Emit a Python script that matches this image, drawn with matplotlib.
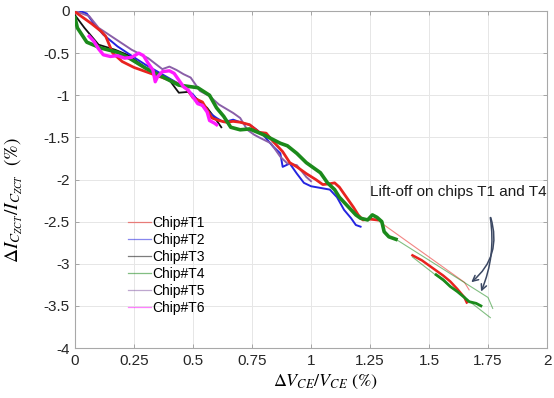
import matplotlib
matplotlib.use("Agg")
import matplotlib.pyplot as plt
from matplotlib.lines import Line2D

plt.rcParams['font.family'] = ['Liberation Sans', 'DejaVu Sans']
plt.rcParams['mathtext.fontset'] = 'stix'

# ---- data ------------------------------------------------------------------
t1_x = [0.00, 0.03, 0.07, 0.11, 0.13, 0.16, 0.20, 0.25, 0.30, 0.35, 0.40, 0.44, 0.47,
        0.50, 0.54, 0.58, 0.61, 0.64, 0.67, 0.70, 0.74, 0.78, 0.81, 0.84, 0.88, 0.91,
        0.94, 0.98, 1.02, 1.05, 1.08, 1.10, 1.12, 1.15, 1.18, 1.20, 1.22, 1.25, 1.28]
t1_y = [-0.01, -0.07, -0.15, -0.24, -0.30, -0.50, -0.60, -0.67, -0.72, -0.77, -0.82, -0.87, -0.91,
        -1.03, -1.08, -1.27, -1.30, -1.32, -1.31, -1.32, -1.35, -1.44, -1.45, -1.55, -1.67, -1.80,
        -1.85, -1.93, -2.00, -2.06, -2.05, -2.04, -2.09, -2.21, -2.33, -2.42, -2.48, -2.47, -2.48]
t1_jump_x = [1.28, 1.65, 1.67]
t1_jump_y = [-2.48, -3.22, -3.31]
t1_tail_x = [1.43, 1.47, 1.50, 1.53, 1.56, 1.59, 1.62, 1.65, 1.66]
t1_tail_y = [-2.90, -2.96, -3.02, -3.08, -3.14, -3.21, -3.30, -3.40, -3.46]

t2_x = [0.02, 0.05, 0.08, 0.12, 0.18, 0.25, 0.30, 0.35, 0.40, 0.45, 0.50, 0.53, 0.57, 0.60,
        0.63, 0.67, 0.71, 0.74, 0.77, 0.80, 0.84, 0.87, 0.88, 0.91, 0.94, 0.97, 1.00, 1.04,
        1.08, 1.11, 1.14, 1.17, 1.19, 1.21]
t2_y = [0.00, -0.03, -0.15, -0.28, -0.42, -0.55, -0.64, -0.72, -0.80, -0.88, -0.99, -1.10, -1.21, -1.27,
        -1.32, -1.29, -1.33, -1.35, -1.41, -1.48, -1.61, -1.69, -1.85, -1.81, -1.93, -2.04, -2.08, -2.10,
        -2.12, -2.21, -2.36, -2.46, -2.54, -2.56]

t3_x = [0.00, 0.04, 0.10, 0.17, 0.23, 0.31, 0.36, 0.40, 0.44, 0.48, 0.52, 0.56, 0.60, 0.62]
t3_y = [-0.05, -0.20, -0.40, -0.46, -0.53, -0.70, -0.74, -0.82, -0.97, -0.96, -1.05, -1.15, -1.30, -1.38]

t4_x = [0.00, 0.01, 0.05, 0.11, 0.18, 0.23, 0.30, 0.37, 0.44, 0.52, 0.57, 0.60, 0.63, 0.66, 0.70,
        0.74, 0.80, 0.87, 0.90, 0.94, 0.98, 1.01, 1.04, 1.07, 1.10, 1.12, 1.15, 1.17, 1.19, 1.21,
        1.24, 1.26, 1.28, 1.30, 1.31, 1.33, 1.36]
t4_y = [-0.08, -0.20, -0.37, -0.44, -0.49, -0.56, -0.68, -0.78, -0.88, -0.91, -1.00, -1.15, -1.25, -1.38, -1.41,
        -1.40, -1.47, -1.57, -1.60, -1.69, -1.80, -1.86, -1.92, -2.04, -2.12, -2.21, -2.30, -2.36, -2.42, -2.46,
        -2.48, -2.42, -2.45, -2.50, -2.62, -2.68, -2.71]
t4_jump_x = [1.36, 1.75, 1.77]
t4_jump_y = [-2.71, -3.40, -3.53]
t4_tail_x = [1.53, 1.56, 1.59, 1.62, 1.65, 1.67, 1.70, 1.72]
t4_tail_y = [-3.13, -3.19, -3.27, -3.33, -3.40, -3.45, -3.47, -3.50]
t4_extra_x = [1.43, 1.76]
t4_extra_y = [-2.92, -3.64]

t5_x = [0.00, 0.06, 0.10, 0.17, 0.24, 0.31, 0.37, 0.40, 0.43, 0.46, 0.49, 0.53, 0.57, 0.61, 0.64,
        0.67, 0.70, 0.73, 0.76, 0.78, 0.83, 0.87, 0.90, 0.94, 0.98, 1.00]
t5_y = [0.00, -0.06, -0.20, -0.33, -0.46, -0.56, -0.69, -0.66, -0.70, -0.75, -0.79, -0.95, -1.01, -1.11, -1.16,
        -1.21, -1.27, -1.41, -1.47, -1.50, -1.57, -1.73, -1.81, -1.83, -1.97, -2.02]

t6_x = [0.06, 0.08, 0.10, 0.12, 0.15, 0.18, 0.21, 0.24, 0.27, 0.29, 0.31, 0.33, 0.34, 0.35, 0.37,
        0.40, 0.42, 0.44, 0.46, 0.48, 0.50, 0.52, 0.54, 0.56, 0.57, 0.59, 0.60]
t6_y = [-0.30, -0.36, -0.45, -0.52, -0.54, -0.53, -0.56, -0.55, -0.50, -0.53, -0.62, -0.70, -0.84, -0.78, -0.72,
        -0.71, -0.74, -0.82, -0.90, -0.94, -1.02, -1.10, -1.12, -1.20, -1.30, -1.33, -1.35]

labels = ['Chip#T1', 'Chip#T2', 'Chip#T3', 'Chip#T4', 'Chip#T5', 'Chip#T6']
colors = ['#e8231f', '#2424e0', '#111111', '#1b8a1b', '#8a5fa8', '#ff1aff']

x_ticks = [0, 0.25, 0.5, 0.75, 1, 1.25, 1.5, 1.75, 2]
y_ticks = [0, -0.5, -1, -1.5, -2, -2.5, -3, -3.5, -4]

# ---- figure ------------------------------------------------------------------
fig = plt.figure(figsize=(5.54, 3.98), dpi=100)
ax = fig.add_axes([75 / 554, 1 - 348 / 398, 472 / 554, 337 / 398])

ax.plot(t3_x, t3_y, color=colors[2], lw=1.3, zorder=3)
ax.plot(t2_x, t2_y, color=colors[1], lw=1.4, zorder=3)
ax.plot(t5_x, t5_y, color=colors[4], lw=1.4, zorder=3)
ax.plot(t1_x, t1_y, color=colors[0], lw=2.0, zorder=4)
ax.plot(t4_x, t4_y, color=colors[3], lw=2.6, zorder=5)
ax.plot(t6_x, t6_y, color=colors[5], lw=2.4, zorder=6)

# lift-off segments
ax.plot(t1_jump_x, t1_jump_y, color=colors[0], lw=0.8, alpha=0.55, zorder=3)
ax.plot(t1_tail_x, t1_tail_y, color=colors[0], lw=1.8, zorder=4)
ax.plot(t4_jump_x, t4_jump_y, color=colors[3], lw=0.8, alpha=0.55, zorder=3)
ax.plot(t4_extra_x, t4_extra_y, color=colors[3], lw=0.8, alpha=0.55, zorder=3)
ax.plot(t4_tail_x, t4_tail_y, color=colors[3], lw=2.0, zorder=5)

ax.set_xlim(0, 2)
ax.set_ylim(-4, 0)
ax.set_xticks(x_ticks)
ax.set_xticklabels([f"{v:g}" for v in x_ticks])
ax.set_yticks(y_ticks)
ax.set_yticklabels([f"{v:g}" for v in y_ticks])
ax.tick_params(direction='in', length=3, width=0.6, color='#9a9a9a',
               labelsize=11, labelcolor='#262626', top=True, right=True, pad=4)
ax.grid(True, color='#e6e6e6', lw=0.7)
ax.set_axisbelow(True)
for sp in ax.spines.values():
    sp.set_color('#a8a8a8')
    sp.set_linewidth(0.8)

ax.set_xlabel(r'$\Delta V_{CE}/V_{CE}\ (\%)$', fontsize=13, labelpad=2)
ax.xaxis.set_label_coords(0.53, -0.075)
ax.set_ylabel(r'$\Delta I_{C_{ZCT}}/I_{C_{ZCT}}\ \ (\%)$', fontsize=14, labelpad=4)
ax.yaxis.set_label_coords(-0.105, 0.44)

handles = [Line2D([], [], color=c, lw=0.9, alpha=0.55) for c in colors]
ax.legend(handles, labels, loc='upper left', bbox_to_anchor=(0.113, 0.393),
          frameon=False, fontsize=10, handlelength=1.6, handletextpad=0.1,
          labelspacing=0.22, borderpad=0, borderaxespad=0)

ax.text(1.25, -2.15, 'Lift-off on chips T1 and T4', fontsize=11.0, color='#1a1a1a',
        ha='left', va='center', clip_on=False)
arrow_col = '#3b4863'
ax.annotate('', xy=(1.67, -3.24), xytext=(1.758, -2.42),
            arrowprops=dict(arrowstyle='->', color=arrow_col, lw=1.1,
                            connectionstyle='arc3,rad=-0.35'))
ax.annotate('', xy=(1.716, -3.36), xytext=(1.758, -2.42),
            arrowprops=dict(arrowstyle='->', color=arrow_col, lw=1.1,
                            connectionstyle='arc3,rad=-0.15'))

fig.savefig('out.png', dpi=100)
